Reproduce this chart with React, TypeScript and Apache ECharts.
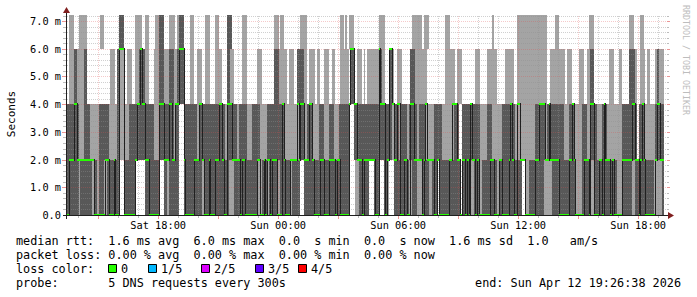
import React, { useEffect, useRef } from "react";
import * as echarts from "echarts";

// ---- axes -------------------------------------------------------------
// x values are hours since Sat 00:00 ; y values are milliseconds
const START_HOUR = 13 + 26 / 60 + 38 / 3600; // Sat 13:26:38
const END_HOUR = START_HOUR + 30; // Sun 19:26:38
const STEP_HOURS = 300 / 3600; // one sample every 300 s
const Y_MAX = 7.22;

const xTickHours = [18, 24, 30, 36, 42];
const xTickLabels = ["Sat 18:00", "Sun 00:00", "Sun 06:00", "Sun 12:00", "Sun 18:00"];
const yTickValues = [0, 1, 2, 3, 4, 5, 6, 7];
const yTickLabels = ["0.0", "1.0 m", "2.0 m", "3.0 m", "4.0 m", "5.0 m", "6.0 m", "7.0 m"];

// ---- smoke (one char per 5-minute sample; d = dark, l = light, . = none) --
const bandEdgesMs = [0, 2, 4, 6, 8];

const smoke0to2 = [
  "ddddd dd l ddddd dd l dd l ddd ll ddddd dd ... ddddd dd ..... .",
  "ddddd ddd ... dd l ddddd d ... ddddd ddddd d ll ddddd ddddd",
  "dddd lll ddddd ddddd dddd lll ddd l ddddd ll ddddd d l ddddd",
  ".. ddddd ddddd ddddd ddddd ddddd dd .... ll ddddd d ... ddd",
  "... dd l ... ddddd dddd ll ddd lll dddd ll ddd . l ddddd ddddd",
  "dd . ddddd ll dddd l ddddd dddd l ddddd ddddd dddd .. ll dddd",
  "ddddd lllll ddddd ddddd dddd llll dddd lll ddddd ddddd dd",
  "dd lll ddddd d ll dd . ddddd ddd lllll d",
];
const smoke2to4 = [
  "ddddd dd lll dddd lllll ddddd d lllll dd lllll ddddd ddddd",
  "ddddd lll ddddd dddd l dd ... ddddd ddd l ddddd ddddd dddd",
  "dd l ddddd d l ddddd lll ddddd llll ddddd ddddd lllll lllll",
  "dd ll ddd llll ddd lll ddd lll ddddd dd .. ddddd ddddd ddddd",
  "ddddd ddd l ddd l dddd l ddddd l dddd lllll ddddd lllll ll dd",
  "d .. ddddd ddddd d llll ddd lllll l ddddd ddd lllll lllll ll",
  "ddddd d l ddddd ddddd lll dddd llll ddd ll dddd lll ddd llll",
  "lllll ddddd dddd . dddd lllll l ddddd",
];
const smoke4to6 = [
  ". lll dd llll dd ..... ..... .... lll . dd ll .. lll .. ll dddd",
  "ll ... lll ddd lll ddd ll dddd .... ll .. lll .. lll ... llll",
  "... dd ll ..... lll ..... . lll ..... .. ddd lllll . lll .. dd",
  "dd ll . llll . ll .. lll .. ll ... lllll . dd .. lll . l . lllll ll",
  "dd ll .. dd l .. lll ..... ddd lllll ll ..... ..... . lllll l .",
  "lll ..... ... lll .... lllll l ..... lllll .. lllll lllll l",
  "lllll ll .. lllll llll . lll .... lll .. ll dd ..... .... lll",
  "... ll .... dddd l .. lll . ll ... l d lll",
];
const smoke6to8 = [
  ". lll ... lllll ..... ... ll ..... .... ddd ..... .. llll ..",
  "ll .... ll ddd ... llll . l ddd .... ll ..... .. lll ... ll ..",
  "... ddd ..... . lll ..... ..... ..... . lll . ll ..... .....",
  "llll ..... ..... ..... ..... ll . l . lll ..... ..... .....",
  "llll ..... ..... ..... . lll lll . lll ..... ..... lll ....",
  "..... ..... ..... ..... . l ..... ..... .... lllll lllll l",
  "lllll ll ..... ll ..... ..... ..... ... lll ..... ..... ..",
  "..... .... lll .... ll ..... ..... ..",
];
// median rtt per sample, in units of 2 ms
const medianLevel = [
  "0 111 22 11111 11111 00000 00 11 000 1 00 333 00000 00 1 22 3 22",
  "11 00000 0 222 111 22 11 22 333 1 00000 111 22 1 000 1 000 11 22",
  "1 00 222 11111 0 11 00000 00 11 00 1 0 11 0 111 000 2 1 000 1111 2 1",
  "22 111 22 1 0000 11 000 1111 0 11 00000 2 33 22 111 0 11111 11 00",
  "3 222 0 1 33 2 11 22 00 11 00 22 11111 0 1 2 1111 00 1 00000 0 11 222",
  "11 0 11 0 1 0 2 11 0 1 00000 00 11 000 11 0000 1 2 1 00 22 111 00000 0",
  "11 2222 11 2 11111 00000 0 11 2 1 00000 111 0 22 000 11 0 2 111 0 1",
  "00000 11111 1 22 11 0 1 2 1 00000 0 1 22 11",
];

// ---- legend texts -----------------------------------------------------
const legendRtt = "median rtt:  1.6 ms avg  6.0 ms max  0.0  s min  0.0  s now  1.6 ms sd  1.0   am/s";
const legendLoss = "packet loss: 0.00 % avg  0.00 % max  0.00 % min  0.00 % now";
const legendColorTitle = "loss color:";
const lossLabels = ["0", "1/5", "2/5", "3/5", "4/5"];
const lossColors = ["#26ff00", "#00b8ff", "#dd00ff", "#5e00ff", "#ff0000"];
const probeText = "probe:       5 DNS requests every 300s";
const endText = "end: Sun Apr 12 19:26:38 2026";
const yAxisName = "Seconds";
const watermark = "RRDTOOL / TOBI OETIKER";

// ---- styles -----------------------------------------------------------
const MONO = "'DejaVu Sans Mono', 'Liberation Mono', monospace";
const LIGHT = "#a4a4a4";
const DARK = "#585858";
const MEDIAN_LINE = "#202020";
const GRID_MINOR = "rgba(143,143,143,0.42)";
const GRID_MAJOR = "rgba(222,79,79,0.3)";
const TICK_MINOR = "rgba(143,143,143,0.6)";
const TICK_MAJOR = "rgba(222,79,79,0.6)";
const AXIS = "#1f1f1f";
const ARROW = "#801f1f";
const LEGEND_FONT_PX = 11.8;
const CHAR_W = 7.1;
const LEGEND_X = 16;

const strip = (s: string) => s.replace(/ /g, "");

function buildSmoke() {
  const items: number[][] = [];
  [smoke0to2, smoke2to4, smoke4to6, smoke6to8].forEach((segs, b) => {
    const str = segs.map(strip).join("");
    let c = 0;
    while (c < str.length) {
      const ch = str[c];
      let e = c + 1;
      while (e < str.length && str[e] === ch) e++;
      if (ch !== ".") {
        items.push([
          START_HOUR + c * STEP_HOURS,
          START_HOUR + e * STEP_HOURS,
          bandEdgesMs[b],
          bandEdgesMs[b + 1],
          ch === "d" ? 2 : 1,
        ]);
      }
      c = e;
    }
  });
  return items;
}

function buildMedian() {
  const lv = medianLevel.map(strip).join("").split("").map(Number);
  const marks: number[][] = [];
  const steps: number[][] = [];
  let c = 0;
  while (c < lv.length) {
    let e = c + 1;
    while (e < lv.length && lv[e] === lv[c]) e++;
    marks.push([START_HOUR + c * STEP_HOURS, START_HOUR + e * STEP_HOURS, lv[c] * 2]);
    if (e < lv.length) {
      const a = lv[c] * 2;
      const b = lv[e] * 2;
      steps.push([START_HOUR + e * STEP_HOURS, Math.min(a, b), Math.max(a, b)]);
    }
    c = e;
  }
  return { marks, steps };
}

function buildGrid() {
  const items: number[][] = [];
  for (let h = Math.ceil(START_HOUR); h <= END_HOUR; h++) items.push([0, h, h % 3 === 0 ? 1 : 0]);
  for (let k = 1; k * 0.2 <= Y_MAX + 1e-9; k++) {
    const v = Math.round(k * 2) / 10;
    items.push([1, v, k % 5 === 0 ? 1 : 0]);
  }
  return items;
}

function tokens(line: string) {
  const out: { text: string; col: number }[] = [];
  const re = /\S+(?: \S+)*/g;
  let m: RegExpExecArray | null;
  while ((m = re.exec(line))) out.push({ text: m[0], col: m.index });
  return out;
}

function textEl(text: string, x: number, y: number, extra: any = {}) {
  return {
    type: "text",
    x,
    y,
    z: 100,
    rotation: extra.rotation || 0,
    style: {
      text,
      x: 0,
      y: 0,
      fill: extra.fill || "#000",
      font: `${extra.size || LEGEND_FONT_PX}px ${MONO}`,
      align: extra.align || "left",
      verticalAlign: "middle",
      textAlign: extra.align || "left",
      textVerticalAlign: "middle",
    },
  };
}

export default function App() {
  const ref = useRef<HTMLDivElement>(null);
  useEffect(() => {
    if (!ref.current) return;
    const chart = echarts.init(ref.current, undefined, { renderer: "svg" });
    const smoke = buildSmoke();
    const { marks, steps } = buildMedian();
    const gridItems = buildGrid();

    const graphic: any[] = [];
    const rows = [241, 255, 269, 283];
    tokens(legendRtt).forEach((t) => graphic.push(textEl(t.text, LEGEND_X + t.col * CHAR_W, rows[0])));
    tokens(legendLoss).forEach((t) => graphic.push(textEl(t.text, LEGEND_X + t.col * CHAR_W, rows[1])));
    graphic.push(textEl(legendColorTitle, LEGEND_X, rows[2]));
    const boxX = [108, 148, 201, 255, 298];
    lossLabels.forEach((lab, i) => {
      graphic.push({
        type: "rect",
        z: 100,
        shape: { x: boxX[i] + 0.5, y: rows[2] - 4.5, width: 8, height: 8 },
        style: { fill: lossColors[i], stroke: "#000", lineWidth: 1 },
      });
      graphic.push(textEl(lab, boxX[i] + 13, rows[2]));
    });
    tokens(probeText).forEach((t) => graphic.push(textEl(t.text, LEGEND_X + t.col * CHAR_W, rows[3])));
    graphic.push(textEl(endText, 681, rows[3], { align: "right" }));
    graphic.push(textEl(yAxisName, 11, 114, { align: "center", rotation: Math.PI / 2, size: 11 }));
    graphic.push(textEl(watermark, 686, 60, { align: "center", rotation: -Math.PI / 2, size: 8.3, fill: "#bdbdbd" }));
    graphic.push({ type: "line", z: 90, shape: { x1: 63, y1: 215.5, x2: 669, y2: 215.5 }, style: { stroke: AXIS, lineWidth: 1 } });
    graphic.push({ type: "line", z: 90, shape: { x1: 66.5, y1: 219, x2: 66.5, y2: 11 }, style: { stroke: AXIS, lineWidth: 1 } });
    graphic.push({ type: "polygon", z: 91, shape: { points: [[668, 212], [668, 219], [674, 215.5]] }, style: { fill: ARROW } });
    graphic.push({ type: "polygon", z: 91, shape: { points: [[63, 13], [70, 13], [66.5, 7]] }, style: { fill: ARROW } });

    const option: any = {
      animation: false,
      backgroundColor: "#ffffff",
      textStyle: { fontFamily: MONO },
      grid: { left: 67, top: 15, width: 600, height: 200 },
      xAxis: {
        type: "value",
        min: START_HOUR,
        max: END_HOUR,
        axisLine: { show: false },
        axisTick: { show: false },
        splitLine: { show: false },
        axisLabel: {
          customValues: xTickHours,
          formatter: (v: number) => {
            const i = xTickHours.findIndex((h) => Math.abs(h - v) < 1e-6);
            return i >= 0 ? xTickLabels[i] : "";
          },
          color: "#000",
          fontFamily: MONO,
          fontSize: 10.3,
          margin: 5,
        },
      },
      yAxis: {
        type: "value",
        min: 0,
        max: Y_MAX,
        axisLine: { show: false },
        axisTick: { show: false },
        splitLine: { show: false },
        axisLabel: {
          customValues: yTickValues,
          formatter: (v: number) => {
            const i = yTickValues.findIndex((t) => Math.abs(t - v) < 1e-6);
            return i >= 0 ? yTickLabels[i] : "";
          },
          color: "#000",
          fontFamily: MONO,
          fontSize: 10.3,
          margin: 6,
        },
      },
      graphic,
      series: [
        {
          type: "custom",
          name: "smoke",
          z: 1,
          clip: true,
          encode: { x: [0, 1], y: [2, 3] },
          data: smoke,
          renderItem: (_p: any, api: any) => {
            const a = api.coord([api.value(0), Math.min(api.value(3), Y_MAX)]);
            const b = api.coord([api.value(1), api.value(2)]);
            const x0 = Math.round(a[0]);
            const x1 = Math.round(b[0]);
            const y0 = Math.round(a[1]);
            const y1 = Math.round(b[1]);
            return {
              type: "rect",
              shape: { x: x0, y: y0, width: x1 - x0, height: y1 - y0 },
              style: { fill: api.value(4) === 2 ? DARK : LIGHT },
            };
          },
        },
        {
          type: "custom",
          name: "grid",
          z: 2,
          clip: false,
          data: gridItems,
          renderItem: (_p: any, api: any) => {
            const orient = api.value(0);
            const v = api.value(1);
            const major = api.value(2) === 1;
            const stroke = major ? GRID_MAJOR : GRID_MINOR;
            const tick = major ? TICK_MAJOR : TICK_MINOR;
            if (orient === 0) {
              const p0 = api.coord([v, 0]);
              const p1 = api.coord([v, Y_MAX]);
              const x = Math.round(p0[0]) + 0.5;
              return {
                type: "group",
                children: [
                  { type: "line", shape: { x1: x, y1: Math.round(p0[1]), x2: x, y2: Math.round(p1[1]) }, style: { stroke, lineWidth: 1, lineDash: [1, 1] } },
                  { type: "line", shape: { x1: x, y1: 216, x2: x, y2: major ? 219 : 218 }, style: { stroke: tick, lineWidth: 1 } },
                ],
              };
            }
            const p0 = api.coord([START_HOUR, v]);
            const p1 = api.coord([END_HOUR, v]);
            const y = Math.round(p0[1]) + 0.5;
            return {
              type: "group",
              children: [
                { type: "line", shape: { x1: Math.round(p0[0]), y1: y, x2: Math.round(p1[0]), y2: y }, style: { stroke, lineWidth: 1, lineDash: [1, 1] } },
                { type: "line", shape: { x1: major ? 62 : 63, y1: y, x2: 66, y2: y }, style: { stroke: tick, lineWidth: 1 } },
                { type: "line", shape: { x1: Math.round(p1[0]), y1: y, x2: Math.round(p1[0]) + (major ? 3 : 2), y2: y }, style: { stroke: tick, lineWidth: 1 } },
              ],
            };
          },
        },
        {
          type: "custom",
          name: "median steps",
          z: 3,
          clip: true,
          encode: { x: 0, y: [1, 2] },
          data: steps,
          renderItem: (_p: any, api: any) => {
            const a = api.coord([api.value(0), api.value(2)]);
            const b = api.coord([api.value(0), api.value(1)]);
            const x = Math.round(a[0]) + 0.5;
            return {
              type: "line",
              shape: { x1: x, y1: Math.round(a[1]) - 1, x2: x, y2: Math.round(b[1]) + 1 },
              style: { stroke: MEDIAN_LINE, lineWidth: 1 },
            };
          },
        },
        {
          type: "custom",
          name: "median loss",
          z: 4,
          clip: false,
          encode: { x: [0, 1], y: 2 },
          data: marks,
          renderItem: (_p: any, api: any) => {
            const a = api.coord([api.value(0), api.value(2)]);
            const b = api.coord([api.value(1), api.value(2)]);
            const x0 = Math.round(a[0]);
            const x1 = Math.round(b[0]);
            const y = Math.round(a[1]);
            return {
              type: "rect",
              shape: { x: x0, y: y - 1, width: x1 - x0, height: 2 },
              style: { fill: lossColors[0] },
            };
          },
        },
      ],
    };
    chart.setOption(option);
    return () => chart.dispose();
  }, []);
  return (
    <div
      ref={ref}
      style={{ position: "absolute", left: 0, top: 0, width: 697, height: 297, background: "#fff" }}
    />
  );
}
